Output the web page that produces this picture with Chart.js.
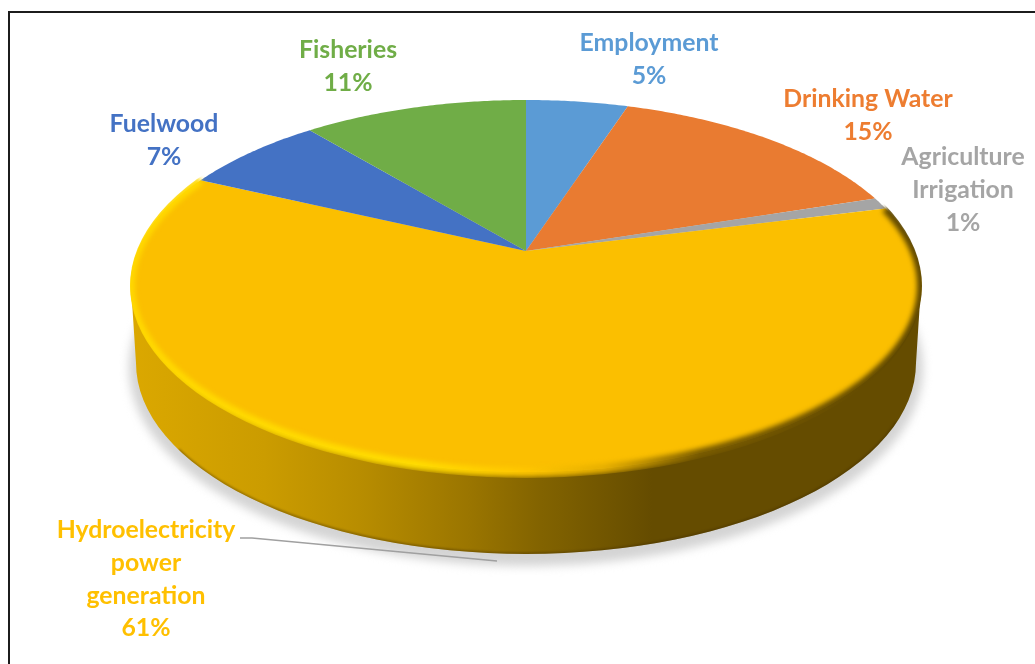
<!DOCTYPE html>
<html>
<head>
<meta charset="utf-8">
<title>Water use shares</title>
<script src="https://cdn.jsdelivr.net/npm/chart.js"></script>
<style>
  html, body { margin: 0; padding: 0; background: #fff; overflow: hidden; }
  #wrap { position: relative; width: 1035px; height: 664px; }
  #frame { position: absolute; left: 8px; top: 11px; right: 0; bottom: 0; border-left: 2px solid #1c1c1c; border-top: 2px solid #1c1c1c; }
  canvas { position: absolute; left: 0; top: 0; }
</style>
</head>
<body>
<div id="wrap">
  <div id="frame"></div>
  <canvas id="pie" width="1035" height="664"></canvas>
</div>
<script>
const categories = ['Employment', 'Drinking Water', 'Agriculture Irrigation', 'Hydroelectricity power generation', 'Fuelwood', 'Fisheries'];
const shares = [5, 15, 1, 61, 7, 11];
const sliceColors = ['#5B9BD5', '#E97B31', '#A5A5A5', '#FBBF00', '#4472C4', '#70AD47'];
const labelColors = ['#5B9BD5', '#ED7D31', '#A5A5A5', '#FFC000', '#4472C4', '#70AD47'];
const labelLines = [['Employment'], ['Drinking Water'], ['Agriculture', 'Irrigation'], ['Hydroelectricity', 'power', 'generation'], ['Fuelwood'], ['Fisheries']];

// layout of the tilted disc, in canvas pixels
const apex = { x: 526, y: 251 };
const tilt = { kx: 388.5, ky: 179.4, p: -0.188 };
const topRim = { x: 526, y: 286, rx: 395, ry: 186 };
const bottomRim = { x: 526, y: 363, rx: 390, ry: 191 };
const labelCenters = [[649, 43], [868, 99], [963, 157], [146, 530], [164, 124], [348, 50]];
const lineStep = 32.8;

// unit circle point -> tilted disc (near edge comes out larger)
function project(angle) {
  const u = Math.cos(angle), v = Math.sin(angle);
  const w = 1 + tilt.p * v;
  return { x: apex.x + tilt.kx * u / w, y: apex.y + tilt.ky * v / w };
}

function traceEdge(ctx, start, end) {
  const steps = Math.max(2, Math.ceil((end - start) / 0.01));
  for (let i = 0; i <= steps; i++) {
    const pt = project(start + (end - start) * i / steps);
    ctx.lineTo(pt.x, pt.y);
  }
}

function wallPath(ctx) {
  ctx.beginPath();
  ctx.ellipse(topRim.x, topRim.y, topRim.rx, topRim.ry, 0, 0, Math.PI);
  ctx.ellipse(bottomRim.x, bottomRim.y, bottomRim.rx, bottomRim.ry, 0, Math.PI, 0, true);
  ctx.closePath();
}

function drawWall(ctx) {
  // soft shadow on the ground
  ctx.save();
  ctx.filter = 'blur(5px)';
  ctx.fillStyle = '#d4d4d4';
  ctx.beginPath();
  ctx.ellipse(bottomRim.x, bottomRim.y + 5, bottomRim.rx + 7, bottomRim.ry + 7, 0, 0, Math.PI * 2);
  ctx.fill();
  ctx.restore();

  const wall = ctx.createLinearGradient(130, 0, 921, 0);
  wall.addColorStop(0, '#DBA800');
  wall.addColorStop(0.17, '#CB9C00');
  wall.addColorStop(0.29, '#B88D00');
  wall.addColorStop(0.43, '#9A7500');
  wall.addColorStop(0.52, '#826300');
  wall.addColorStop(0.66, '#654C00');
  wall.addColorStop(1, '#654C00');
  ctx.save();
  wallPath(ctx);
  ctx.fillStyle = wall;
  ctx.fill();
  ctx.clip();
  // darker lip along the bottom
  ctx.filter = 'blur(1px)';
  ctx.strokeStyle = 'rgba(60,40,0,0.4)';
  ctx.lineWidth = 3;
  ctx.beginPath();
  ctx.ellipse(bottomRim.x, bottomRim.y, bottomRim.rx, bottomRim.ry, 0, Math.PI * 0.1, Math.PI * 0.85);
  ctx.stroke();
  ctx.restore();
}

// rounded edge of the big slice: bright on the lit side, brown on the far side
function drawBevel(ctx, arc) {
  const rim = ctx.createLinearGradient(130, 0, 921, 0);
  rim.addColorStop(0, '#FFD800');
  rim.addColorStop(0.36, '#FFDC00');
  rim.addColorStop(0.5, '#FFC600');
  rim.addColorStop(0.6, '#E5AE00');
  rim.addColorStop(0.72, '#7A5C00');
  rim.addColorStop(1, '#5E4700');
  ctx.save();
  // keep the blur on the disc and the top of its wall
  ctx.beginPath();
  ctx.ellipse(topRim.x, topRim.y, topRim.rx + 1, topRim.ry + 6, 0, 0, Math.PI * 2);
  ctx.clip();
  ctx.filter = 'blur(2.5px)';
  ctx.strokeStyle = rim;
  ctx.lineWidth = 9;
  ctx.beginPath();
  traceEdge(ctx, arc.startAngle, arc.endAngle);
  ctx.stroke();
  ctx.restore();
}

const tiltedPie = {
  id: 'tiltedPie',
  // the arcs keep their angles from the controller, only the painting is tilted
  beforeDatasetDraw(chart) {
    const ctx = chart.ctx;
    const arcs = chart.getDatasetMeta(0).data;
    drawWall(ctx);
    arcs.forEach((arc, i) => {
      ctx.beginPath();
      ctx.moveTo(apex.x, apex.y);
      traceEdge(ctx, arc.startAngle, arc.endAngle);
      ctx.closePath();
      ctx.fillStyle = sliceColors[i];
      ctx.fill();
    });
    const hydro = categories.indexOf('Hydroelectricity power generation');
    drawBevel(ctx, arcs[hydro]);
    return false;
  },
  afterDraw(chart) {
    const ctx = chart.ctx;
    // leader line for the big slice
    ctx.save();
    ctx.strokeStyle = '#A0A0A0';
    ctx.lineWidth = 1.5;
    ctx.beginPath();
    ctx.moveTo(240, 538);
    ctx.lineTo(252, 538);
    ctx.lineTo(497, 561);
    ctx.stroke();

    ctx.font = 'bold 24.8px Lato';
    ctx.textAlign = 'center';
    ctx.textBaseline = 'middle';
    categories.forEach((name, i) => {
      const lines = labelLines[i].concat(shares[i] + '%');
      ctx.fillStyle = labelColors[i];
      lines.forEach((line, n) => {
        ctx.fillText(line, labelCenters[i][0], labelCenters[i][1] + n * lineStep);
      });
    });
    ctx.restore();
  }
};

new Chart(document.getElementById('pie'), {
  type: 'pie',
  data: {
    labels: categories,
    datasets: [{ data: shares, backgroundColor: sliceColors, borderWidth: 0 }]
  },
  options: {
    responsive: false,
    animation: false,
    events: [],
    plugins: { legend: { display: false }, tooltip: { enabled: false } }
  },
  plugins: [tiltedPie]
});
</script>
</body>
</html>
